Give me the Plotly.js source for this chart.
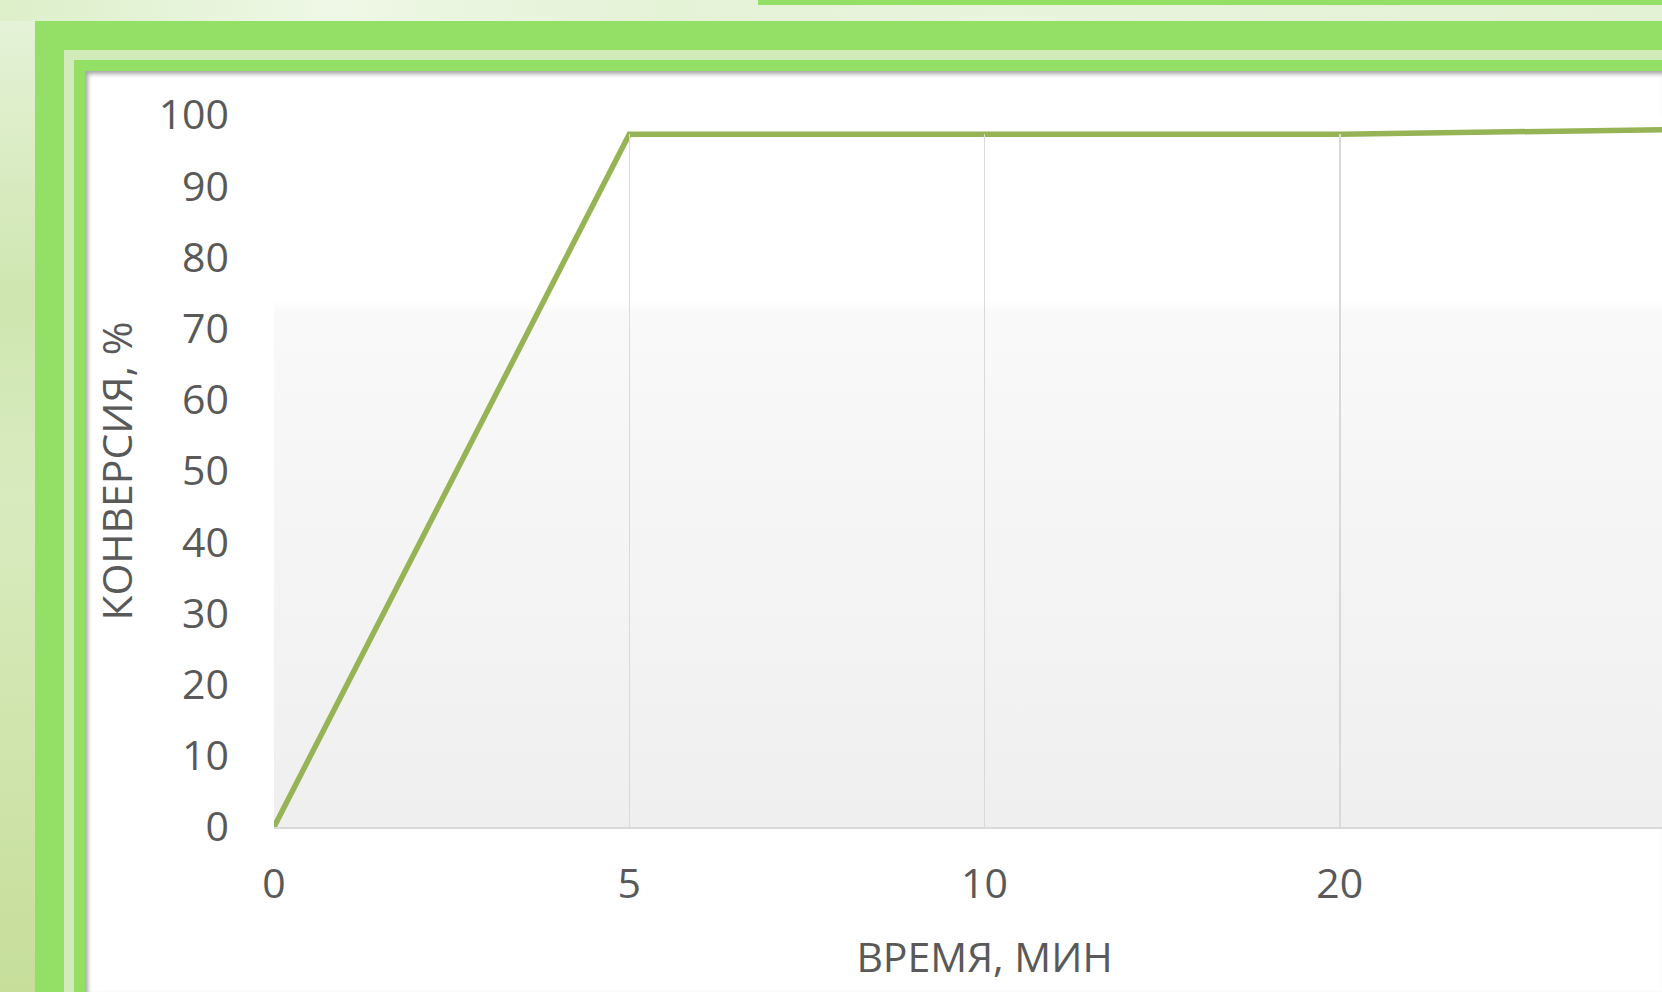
<!DOCTYPE html>
<html>
<head>
<meta charset="utf-8">
<script src="https://cdn.plot.ly/plotly-3.0.1.min.js"></script>
<style>
  html, body { margin: 0; padding: 0; width: 1662px; height: 992px; overflow: hidden; }
  body { background: #d9ecc4; position: relative; }
  .abs { position: absolute; }
  #leftstrip { left: 0; top: 0; width: 35px; bottom: 0;
    background: linear-gradient(180deg, #e6f3da 0%, #cfe6b0 30%, #d8ebbf 50%, #c6de9a 100%); }
  #topstrip { left: 0; top: 0; right: 0; height: 21px;
    background: linear-gradient(90deg, #dcefc9 0%, #eef8e6 20%, #e4f2d6 40%, #e8f4dc 60%, #e3f1d4 100%); }
  #topline { left: 758px; top: 0; right: 0; height: 5px; background: #94df66; }
  #g1 { left: 35px; top: 21px; right: 0; bottom: 0; background: #94df66; }
  #l1 { left: 64px; top: 50px; right: 0; bottom: 0; background: #d3ebbb; }
  #g2 { left: 74px; top: 60px; right: 0; bottom: 0; background: #94df66; }
  #w  { left: 85px; top: 71px; right: 0; bottom: 0; background: #ffffff;
    box-shadow: inset 3px 3px 4px rgba(0,0,0,0.35); }
  #chart { position: absolute; left: 0; top: 0; width: 1700px; height: 992px; }
</style>
</head>
<body>
<div class="abs" id="leftstrip"></div>
<div class="abs" id="topstrip"></div>
<div class="abs" id="topline"></div>
<div class="abs" id="g1"></div>
<div class="abs" id="l1"></div>
<div class="abs" id="g2"></div>
<div class="abs" id="w"></div>
<div id="chart"></div>
<script>
// ---- data ----
const timeCategories = ['0', '5', '10', '20', '30'];
const conversion = [0, 97.3, 97.3, 97.3, 98.0];
const visibleTimeLabels = ['0', '5', '10', '20'];
const yTickValues = [0, 10, 20, 30, 40, 50, 60, 70, 80, 90, 100];
const xTitle = 'ВРЕМЯ, МИН';
const yTitle = 'КОНВЕРСИЯ, %';

// ---- styling ----
const textColor = '#595959';
const fontFamily = '"Open Sans", "Noto Sans", sans-serif';

const gradSvg = '<svg xmlns="http://www.w3.org/2000/svg" width="100" height="100" preserveAspectRatio="none">' +
  '<defs><linearGradient id="g" x1="0" y1="0" x2="0" y2="1">' +
  '<stop offset="0" stop-color="#ffffff"/>' +
  '<stop offset="0.26" stop-color="#ffffff"/>' +
  '<stop offset="0.28" stop-color="#f9f9f9"/>' +
  '<stop offset="1" stop-color="#efefef"/>' +
  '</linearGradient></defs><rect width="100" height="100" fill="url(#g)"/></svg>';
const gradUri = 'data:image/svg+xml;charset=utf-8,' + encodeURIComponent(gradSvg);

// The original chart is cropped on the right: its plot area ends at the last
// category, just past the visible window.
const W = 1700, H = 992;
const plotLeft = 274, plotRight = 5, plotBottom = 827, plotTop = 115;
const yRange = [0, 100];
// In the original the vertical gridlines stop at the curve's plateau.
const gridTop = conversion[1] / yRange[1];

const lineTrace = {
  type: 'scatter',
  mode: 'lines',
  x: timeCategories,
  y: conversion,
  line: { color: '#96b455', width: 5.5 },
  hoverinfo: 'skip',
  showlegend: false
};

// carrier for the gridline-only axis pair (draws nothing itself)
const gridTrace = {
  type: 'scatter',
  mode: 'none',
  x: timeCategories,
  y: conversion,
  xaxis: 'x2',
  yaxis: 'y2',
  hoverinfo: 'skip',
  showlegend: false
};

const layout = {
  width: W,
  height: H,
  paper_bgcolor: 'rgba(0,0,0,0)',
  plot_bgcolor: 'rgba(0,0,0,0)',
  margin: { l: plotLeft, r: plotRight, t: plotTop, b: H - plotBottom, pad: 0 },
  font: { family: fontFamily, color: textColor, size: 41 },
  xaxis: {
    type: 'category',
    categoryorder: 'array',
    categoryarray: timeCategories,
    range: [0, timeCategories.length - 1],
    tickmode: 'array',
    tickvals: visibleTimeLabels,
    ticktext: visibleTimeLabels,
    showgrid: false,
    showline: true,
    linecolor: '#d9d9d9',
    linewidth: 2,
    ticks: '',
    ticklabelstandoff: 20,
    tickfont: { family: fontFamily, color: textColor, size: 41 },
    title: { text: xTitle, font: { family: fontFamily, color: textColor, size: 41 }, standoff: 34 },
    zeroline: false,
    fixedrange: true
  },
  yaxis: {
    range: yRange,
    tickvals: yTickValues,
    showgrid: false,
    showline: false,
    zeroline: false,
    ticks: '',
    ticklabelstandoff: 44,
    tickfont: { family: fontFamily, color: textColor, size: 41 },
    title: { text: yTitle, font: { family: fontFamily, color: textColor, size: 41 }, standoff: 13 },
    fixedrange: true
  },
  xaxis2: {
    type: 'category',
    categoryorder: 'array',
    categoryarray: timeCategories,
    range: [0, timeCategories.length - 1],
    anchor: 'y2',
    tickmode: 'array',
    tickvals: visibleTimeLabels,
    showgrid: true,
    gridcolor: '#d9d9d9',
    gridwidth: 1.5,
    showticklabels: false,
    showline: false,
    zeroline: false,
    ticks: '',
    fixedrange: true
  },
  yaxis2: {
    domain: [0, gridTop],
    anchor: 'x2',
    range: yRange,
    visible: false,
    showgrid: false,
    zeroline: false,
    fixedrange: true
  },
  images: [{
    source: gradUri,
    xref: 'paper', yref: 'paper',
    x: 0, y: 1, sizex: 1, sizey: 1,
    xanchor: 'left', yanchor: 'top',
    sizing: 'stretch',
    layer: 'below'
  }]
};

Plotly.newPlot('chart', [lineTrace, gridTrace], layout, { displayModeBar: false, staticPlot: true });
</script>
</body>
</html>
